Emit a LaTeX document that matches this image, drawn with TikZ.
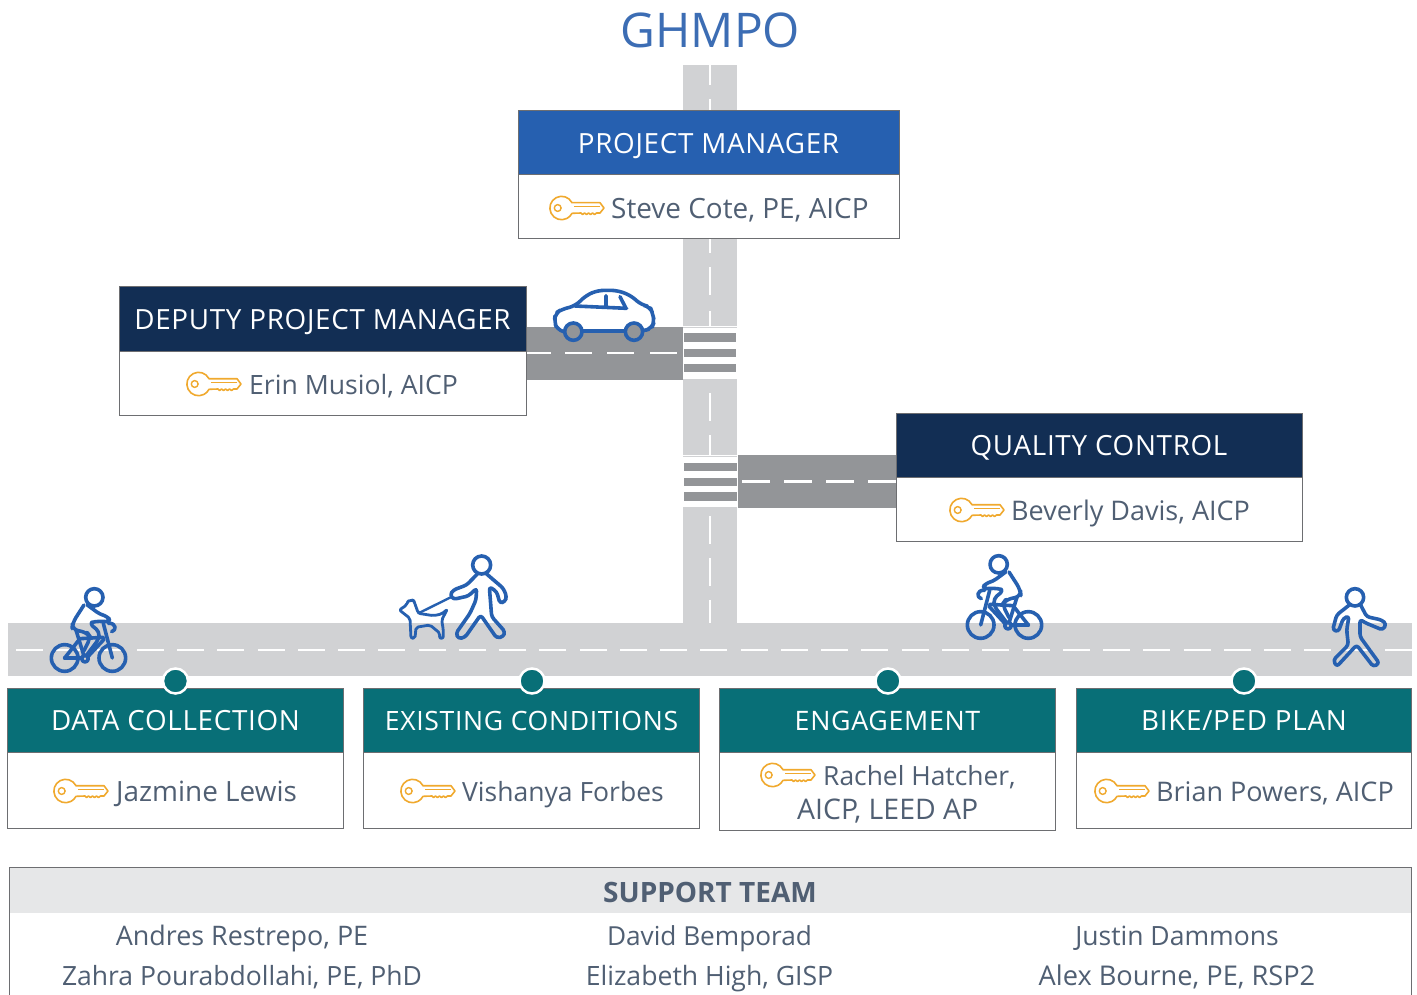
\documentclass[tikz,border=0pt]{standalone}
\usepackage{fontspec}
\setmainfont{Open Sans}
\definecolor{roadlt}{HTML}{D1D2D4}
\definecolor{roaddk}{HTML}{939598}
\definecolor{blu}{HTML}{2660B0}
\definecolor{nav}{HTML}{122E54}
\definecolor{teal}{HTML}{086F77}
\definecolor{txt}{HTML}{505F73}
\definecolor{keyc}{HTML}{F0A92E}
\definecolor{ttl}{HTML}{3C6DB4}
\definecolor{edg}{HTML}{6D6E71}
\definecolor{sup}{HTML}{E6E7E8}
\newcommand\fs[1]{\fontsize{#1}{30}\selectfont}
\tikzset{
 x=1pt,y=-1pt,
 box/.style={draw=edg,line width=1pt,anchor=north west,inner sep=0pt,outer sep=0pt,fill=white},
 hdr/.style={box},
 htx/.style={text=white,font=\fs{#1}\addfontfeature{LetterSpace=2.5},inner sep=0pt,anchor=base},
 htx/.default=27.8,
 who/.style={text=txt,inner sep=0pt,anchor=base west},
 icon/.style={draw=blu,line width=3.6pt,line join=round,line cap=round},
 dash w/.style={draw=white,line width=2.8pt},
 keyicon/.pic={
  \draw[keyc,line width=1.6pt,line join=round] (50,-5.3) -- (22,-5.3) arc[start angle=27,end angle=333,radius=11.7pt] -- (31,5) -- (32.5,6.5) -- (34.5,5) -- (36.5,6.5) -- (38.5,5) -- (40.5,6.5) -- (42.5,5) -- (44.5,6.5) -- (46.5,5) -- (50,5) -- (54,0) -- cycle;
  \draw[keyc,line width=1.4pt] (7.7,0) circle (3.4);
  \draw[keyc,line width=1.1pt] (24,-1.3) -- (50,-1.3);
 },
 bikericon/.pic={
  \draw[icon] (283,52) circle (26);
  \draw[icon] (194,234) circle (40);
  \draw[icon] (337,234) circle (40);
  \draw[icon] (255,236) circle (10);
  \draw[icon,rounded corners=6pt] (252,75) -- (218,128) -- (216,148) -- (262,158) -- (272,172) -- (252,212);
  \draw[icon,rounded corners=4pt] (262,75) -- (300,103) -- (325,110) -- (330,125) -- (285,124) -- (268,130) -- (298,155) -- (296,178) -- (258,228);
  \draw[icon] (228,150) -- (252,228);
  \draw[icon] (310,130) -- (337,234);
  \draw[icon] (312,178) -- (262,232);
  \draw[icon] (310,172) -- (240,176);
  \draw[icon] (194,234) -- (240,176);
  \draw[icon] (194,234) -- (246,234);
  \draw[icon] (325,130) .. controls (350,128) and (350,152) .. (335,155);
 },
 walkericon/.pic={
  \draw[icon] (135,52) circle (26);
  \draw[icon,rounded corners=3pt] (118,75) -- (80,105) -- (68,150) -- (85,155) -- (100,115) -- (117,108) -- (110,150) -- (115,195) -- (70,240) -- (80,260) -- (140,195) -- (190,260) -- (208,250) -- (150,170) -- (150,118) -- (165,128) -- (218,150) -- (229,132) -- (215,120) -- (170,110) -- (152,75);
 }
}
\begin{document}
\begin{tikzpicture}
\useasboundingbox (0,0) rectangle (1417,995);
\fill[white] (0,0) rectangle (1417,995);
\node[text=ttl,font=\fs{47.8},inner sep=0pt,anchor=base] (title) at (710.5,48) {GHMPO};
% vertical road
\fill[roadlt] (683,65) rectangle (737,326);
\fill[roadlt] (683,380) rectangle (737,455);
\fill[roadlt] (683,508) rectangle (737,625);
\foreach \a/\b in {65/85,99/127,225/253,267/295,311/326,393/421,435/455,516/544,558/586,600/625}
  \draw[dash w] (710,\a) -- (710,\b);
% left branch
\fill[roaddk] (526,327) rectangle (683,380);
\foreach \a in {527,565,607,650} \draw[dash w] (\a,353) -- ({\a+(\a==527?24:27)},353);
\foreach \a/\b in {333/342,349/357,364/372} \fill[roaddk] (683.5,\a) rectangle (736,\b);
\draw[roadlt,line width=1pt] (683,327) -- (737,327) (683,379.5) -- (737,379.5);
% right branch
\fill[roaddk] (738,455) rectangle (896,508);
\foreach \a in {742,784,826,868} \draw[dash w] (\a,481.5) -- ({\a+28},481.5);
\foreach \a/\b in {463/471,478/486,492/501} \fill[roaddk] (684,\a) rectangle (736.5,\b);
\draw[roadlt,line width=1pt] (683,456) -- (737,456) (683,507.5) -- (737,507.5);
% main road
\fill[roadlt] (7.5,623) rectangle (1412,676);
\foreach \k in {0,...,34} \draw[dash w] ({16+40.26*\k},650) -- ({43+40.26*\k},650);
% top boxes
\node[box,minimum width=381.5pt,minimum height=64pt] (pmb) at (518,175) {};
\node[hdr,fill=blu,minimum width=381.5pt,minimum height=64pt] (pmh) at (518,111) {};
\node[htx] (pmt) at (708.5,154) {PROJECT MANAGER};
\pic at (550,208) {keyicon};
\node[who,font=\fs{27.9}] (pmn) at (611,219) {Steve Cote, PE, AICP};
\node[box,minimum width=406.5pt,minimum height=64pt] (dpb) at (119.5,351) {};
\node[hdr,fill=nav,minimum width=406.5pt,minimum height=64pt] (dph) at (119.5,287) {};
\node[htx] (dpt) at (322.5,330) {DEPUTY PROJECT MANAGER};
\pic at (187,384) {keyicon};
\node[who,font=\fs{26.6}] (dpn) at (249,394) {Erin Musiol, AICP};
\node[box,minimum width=406.5pt,minimum height=64pt] (qcb) at (896,477) {};
\node[hdr,fill=nav,minimum width=406.5pt,minimum height=64pt] (qch) at (896,413) {};
\node[htx] (qct) at (1099,455.5) {QUALITY CONTROL};
\pic at (950,510) {keyicon};
\node[who,font=\fs{27}] (qcn) at (1011,520) {Beverly Davis, AICP};
% bottom boxes
\node[box,minimum width=335.5pt,minimum height=76pt] (b1b) at (7.5,752) {};
\node[hdr,fill=teal,minimum width=335.5pt,minimum height=64pt] (b1h) at (7.5,688) {};
\node[htx] (b1t) at (175.5,730) {DATA COLLECTION};
\pic at (54,791) {keyicon};
\node[who,font=\fs{27.9}] (b1n) at (116,801) {Jazmine Lewis};
\node[box,minimum width=335.5pt,minimum height=76pt] (b2b) at (363.5,752) {};
\node[hdr,fill=teal,minimum width=335.5pt,minimum height=64pt] (b2h) at (363.5,688) {};
\node[htx=26.6] (b2t) at (531.5,730) {EXISTING CONDITIONS};
\pic at (401,791) {keyicon};
\node[who,font=\fs{26.5}] (b2n) at (462,801) {Vishanya Forbes};
\node[box,minimum width=335.5pt,minimum height=78pt] (b3b) at (719.5,752) {};
\node[hdr,fill=teal,minimum width=335.5pt,minimum height=64pt] (b3h) at (719.5,688) {};
\node[htx=26.8] (b3t) at (887.5,730) {ENGAGEMENT};
\pic at (761,775) {keyicon};
\node[who,font=\fs{26.4}] (b3n) at (823,785) {Rachel Hatcher,};
\node[who,font=\fs{28.4}] (b3m) at (797,819) {AICP, LEED AP};
\node[box,minimum width=335.5pt,minimum height=76pt] (b4b) at (1076,752) {};
\node[hdr,fill=teal,minimum width=335.5pt,minimum height=64pt] (b4h) at (1076,688) {};
\node[htx] (b4t) at (1244,730) {BIKE/PED PLAN};
\pic at (1095,791) {keyicon};
\node[who,font=\fs{27}] (b4n) at (1156,801) {Brian Powers, AICP};
% dots
\foreach \n/\x in {d1/175.5,d2/532,d3/888,d4/1244}
  \node[circle,fill=teal,draw=white,line width=2.5pt,minimum size=25pt,inner sep=0pt] (\n) at (\x,681) {};
% car
\begin{scope}[shift={(520,280)},scale=0.3333]
 \draw[icon,fill=white,rounded corners=6pt] (132,155) -- (112,150) -- (103,125) -- (106,100) -- (125,88) -- (165,78) -- (200,45) -- (235,31) -- (290,31) -- (330,45) -- (365,75) -- (390,80) -- (398,100) -- (403,125) -- (395,145) -- (370,153) -- (132,153);
 \draw[icon] (165,78) -- (320,85) (258,47) -- (258,80) (300,50) -- (318,85);
 \draw[icon,fill=roaddk] (160,155) circle (26);
 \draw[icon,fill=roaddk] (342,155) circle (26);
\end{scope}
% cyclists and walkers
\pic[shift={(0,580)},scale=0.3333] {bikericon};
\pic[shift={(1093,547)},xscale=-0.3333,yscale=0.3333] {bikericon};
\pic[shift={(1310,580)},scale=0.3333] {walkericon};
\begin{scope}[shift={(390,550)},scale=0.3333]
 \draw[icon] (275,45) circle (27);
 \draw[icon,rounded corners=3pt] (262,72) -- (230,105) -- (190,120) -- (180,135) -- (190,148) -- (235,138) -- (260,115) -- (258,150) -- (240,190) -- (198,250) -- (205,266) -- (225,262) -- (272,195) -- (320,264) -- (340,260) -- (345,245) -- (305,200) -- (298,110) -- (320,125) -- (330,160) -- (345,155) -- (350,140) -- (340,115) -- (290,72);
 \draw[icon,line width=2.4pt] (180,143) -- (85,190);
 \draw[icon,line width=2.8pt,rounded corners=2pt] (60,205) -- (28,180) -- (50,165) -- (55,150) -- (65,155) -- (70,148) -- (85,190) -- (130,197) -- (155,192) -- (172,178) -- (155,210) -- (160,240) -- (160,265) -- (148,265) -- (150,250) -- (120,225) -- (78,232) -- (75,265) -- (63,265) -- cycle;
\end{scope}
% support team
\fill[sup] (9,867) rectangle (1411,913);
\draw[edg,line width=1pt] (9,995) -- (9,867) -- (1411,867) -- (1411,995);
\node[text=txt,font=\bfseries\fs{28},inner sep=0pt,anchor=base] (st) at (710,902.5) {SUPPORT TEAM};
\tikzset{col/.style={text=txt,inner sep=0pt,anchor=base}}
\node[col,font=\fs{26.9}] (s1) at (242,945) {Andres Restrepo, PE};
\node[col,font=\fs{26.5}] (s2) at (242,985) {Zahra Pourabdollahi, PE, PhD};
\node[col,font=\fs{26.2}] (s3) at (709.5,945) {David Bemporad};
\node[col,font=\fs{26.6}] (s4) at (709.5,985) {Elizabeth High, GISP};
\node[col,font=\fs{26.5}] (s5) at (1177,945) {Justin Dammons};
\node[col,font=\fs{27.2}] (s6) at (1177,985) {Alex Bourne, PE, RSP2};
\end{tikzpicture}
\end{document}
